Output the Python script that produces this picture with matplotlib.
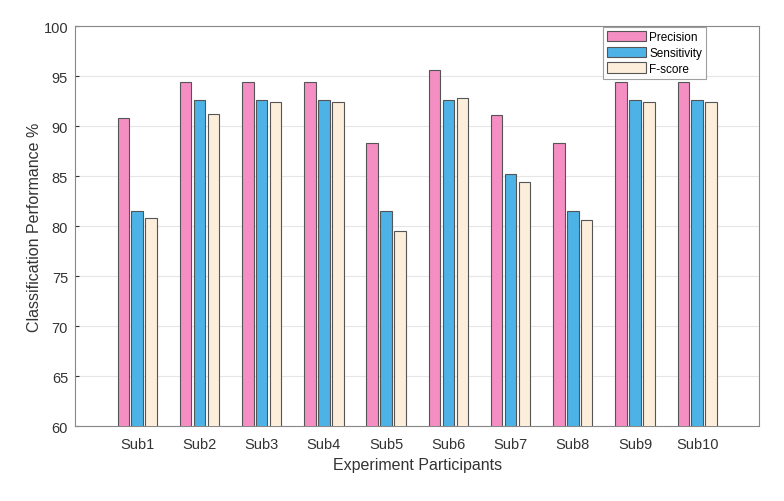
import matplotlib
matplotlib.use("Agg")
import matplotlib.pyplot as plt
import numpy as np

plt.rcParams['font.family'] = ['Liberation Sans', 'DejaVu Sans']

subjects = ['Sub1', 'Sub2', 'Sub3', 'Sub4', 'Sub5', 'Sub6', 'Sub7', 'Sub8', 'Sub9', 'Sub10']
precision = [90.8, 94.4, 94.4, 94.4, 88.3, 95.6, 91.1, 88.3, 94.4, 94.4]
sensitivity = [81.5, 92.6, 92.6, 92.6, 81.5, 92.6, 85.2, 81.5, 92.6, 92.6]
fscore = [80.8, 91.2, 92.4, 92.4, 79.5, 92.8, 84.4, 80.6, 92.4, 92.4]

fig = plt.figure(figsize=(7.84, 5.02), dpi=100)
ax = fig.add_axes([0.0957, 0.149, 0.873, 0.797])

x = np.arange(1, len(subjects) + 1)
w = 0.185
off = 0.224
ec = '#555555'
ax.bar(x - off, precision, w, color='#F48EC3', edgecolor=ec, linewidth=0.8, label='Precision', zorder=3)
ax.bar(x, sensitivity, w, color='#4DB3E6', edgecolor=ec, linewidth=0.8, label='Sensitivity', zorder=3)
ax.bar(x + off, fscore, w, color='#FCEEDB', edgecolor=ec, linewidth=0.8, label='F-score', zorder=3)

ax.set_xlim(0, 11)
ax.set_ylim(60, 100)
ax.set_yticks(np.arange(60, 101, 5))
ax.set_xticks(x)
ax.set_xticklabels(subjects)
ax.grid(axis='y', color='#e6e6e6', linewidth=0.8, zorder=0)
ax.tick_params(axis='both', labelsize=10.5, colors='#333333', direction='in', length=3)
ax.tick_params(axis='x', length=3, color='#1a6fa0', pad=8)
ax.tick_params(axis='y', pad=5)
for s in ax.spines.values():
    s.set_color('#888888')
    s.set_linewidth(0.8)

ax.set_xlabel('Experiment Participants', fontsize=11.5, color='#333333', labelpad=4)
ax.set_ylabel('Classification Performance %', fontsize=11.5, color='#333333', labelpad=1)

leg = ax.legend(loc='upper left', bbox_to_anchor=(0.771, 0.999), fontsize=8.5,
                frameon=True, fancybox=False, edgecolor='#888888',
                handlelength=3.3, handleheight=1.0, borderpad=0.35,
                labelspacing=0.3, handletextpad=0.3, borderaxespad=0.0)
leg.get_frame().set_linewidth(0.8)

fig.savefig('out.png', dpi=100)
